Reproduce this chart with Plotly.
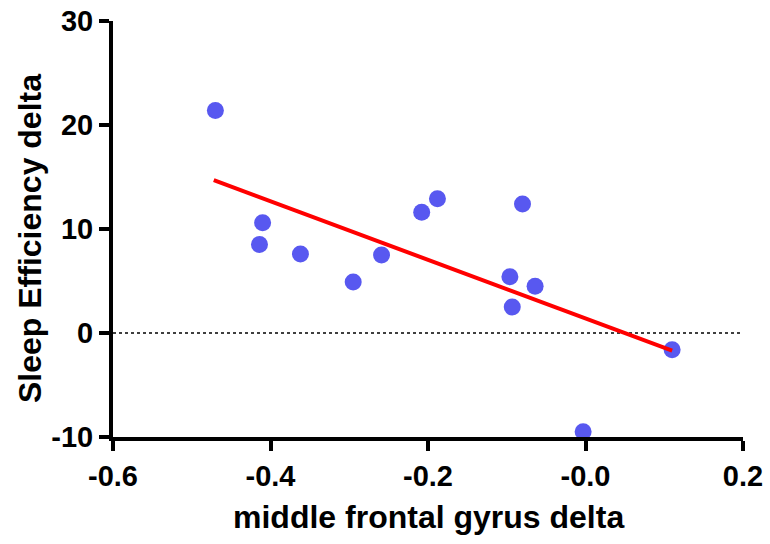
import plotly.graph_objects as go

# ---- data ----
mfg_delta = [-0.470, -0.410, -0.414, -0.362, -0.295, -0.259, -0.208, -0.188,
             -0.080, -0.096, -0.093, -0.064, -0.003, 0.110]
se_delta = [21.4, 10.6, 8.5, 7.6, 4.9, 7.5, 11.6, 12.9,
            12.4, 5.4, 2.5, 4.5, -9.5, -1.6]
fit_x = [-0.472, 0.110]
fit_y = [14.7, -1.7]
ref_y = 0

x_tickvals = [-0.6, -0.4, -0.2, 0.0, 0.2]
x_ticktext = ["-0.6", "-0.4", "-0.2", "-0.0", "0.2"]
y_tickvals = [-10, 0, 10, 20, 30]
y_ticktext = ["-10", "0", "10", "20", "30"]
x_range = [-0.6, 0.2]
y_range = [-10, 30]
x_title = "middle frontal gyrus delta"
y_title = "Sleep Efficiency delta"

FONT = "Liberation Sans, Arial, sans-serif"

fig = go.Figure()

# dotted reference line at y = 0
fig.add_trace(go.Scatter(
    x=x_range, y=[ref_y, ref_y], mode="lines",
    line=dict(color="black", width=1.6, dash="dot"),
    hoverinfo="skip", showlegend=False, cliponaxis=False,
))

fig.add_trace(go.Scatter(
    x=mfg_delta, y=se_delta, mode="markers",
    marker=dict(color="#5858F0", size=17, line=dict(width=0)),
    showlegend=False, cliponaxis=False,
))

fig.add_trace(go.Scatter(
    x=fit_x, y=fit_y, mode="lines",
    line=dict(color="#FF0000", width=4),
    showlegend=False, cliponaxis=False,
))

axis_common = dict(
    showline=True, linecolor="black", linewidth=4,
    ticks="outside", ticklen=10, tickwidth=4, tickcolor="black",
    showgrid=False, zeroline=False, automargin=False,
    tickfont=dict(family=FONT, size=29, color="black", weight="bold"),
)

fig.update_layout(
    width=770, height=544,
    margin=dict(l=113, r=27, t=21, b=107),
    paper_bgcolor="white", plot_bgcolor="white",
    xaxis=dict(range=x_range, tickvals=x_tickvals, ticktext=x_ticktext,
               **axis_common),
    yaxis=dict(range=y_range, tickvals=y_tickvals, ticktext=y_ticktext,
               **axis_common),
    annotations=[
        dict(text=x_title, xref="paper", yref="paper", x=0.5, y=-0.192,
             xanchor="center", yanchor="middle", showarrow=False,
             font=dict(family=FONT, size=32, color="black", weight="bold")),
        dict(text=y_title, xref="paper", yref="paper", x=-0.1317, y=0.476,
             xanchor="center", yanchor="middle", showarrow=False, textangle=-90,
             font=dict(family=FONT, size=32, color="black", weight="bold")),
    ],
)

fig.write_html(
    "out.html",
    config={"displayModeBar": False},
    post_script="document.body.style.margin='0';document.body.style.overflow='hidden';",
)
